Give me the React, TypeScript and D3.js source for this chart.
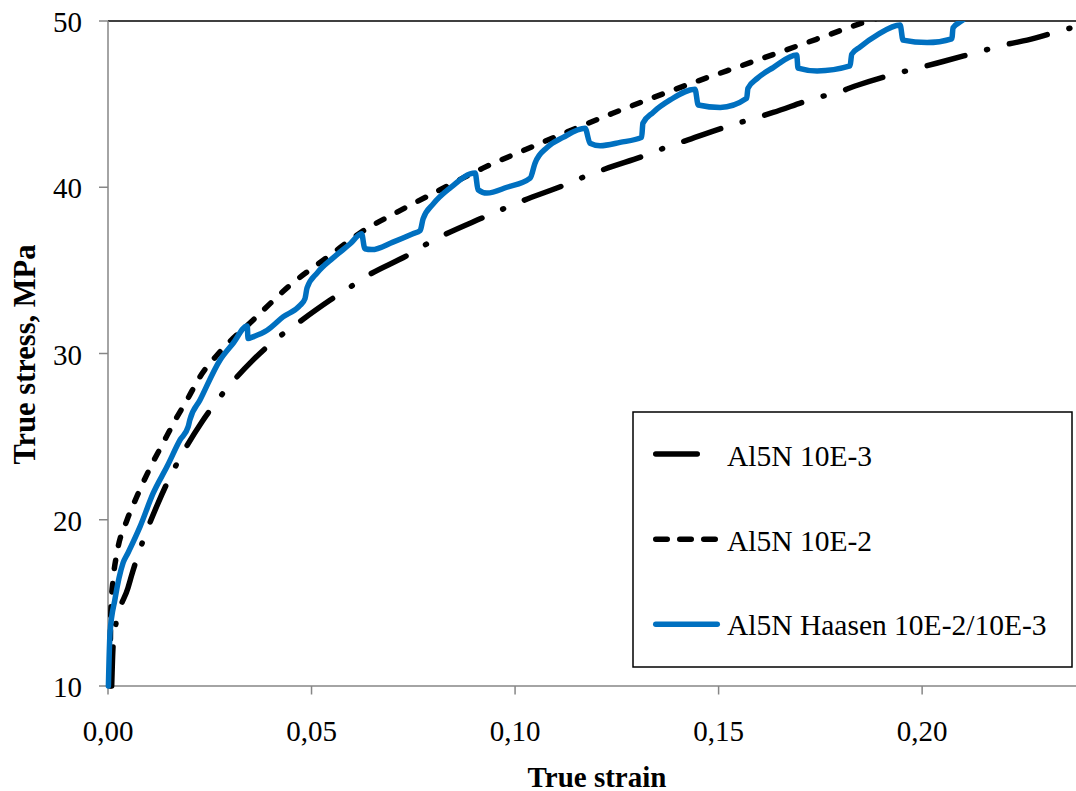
import React from "react";
import * as d3 from "d3";

// ---- data ----
const strainTicks = [0, 0.05, 0.1, 0.15, 0.2];
const stressTicks = [10, 20, 30, 40, 50];

const seriesNames = ["Al5N 10E-3", "Al5N 10E-2", "Al5N Haasen 10E-2/10E-3"];

// Al5N 10E-3 (dash-dot)
const slowStrain = [0.0009, 0.001, 0.0012, 0.0017, 0.0049, 0.0061, 0.0084, 0.0123, 0.0147, 0.0172, 0.0231, 0.0263, 0.0356, 0.0415, 0.0459, 0.0545, 0.0595, 0.0639, 0.0735, 0.0784, 0.0823, 0.0919, 0.0971, 0.102, 0.1118, 0.1172, 0.1221, 0.1324, 0.1376, 0.1425, 0.1533, 0.1582, 0.1634, 0.1737, 0.1791, 0.1843, 0.1946, 0.1995, 0.2049, 0.2155, 0.2209, 0.2258, 0.2369, 0.2378];
const slowStress = [10, 10.8, 12.2, 13.4, 15.9, 16.9, 18.6, 21.0, 22.3, 23.5, 25.9, 27.0, 29.6, 30.9, 31.7, 33.2, 34.0, 34.7, 35.9, 36.6, 37.1, 38.15, 38.7, 39.2, 40.1, 40.65, 41.1, 41.95, 42.45, 42.85, 43.75, 44.1, 44.5, 45.35, 45.7, 46.15, 46.9, 47.2, 47.55, 48.25, 48.6, 48.85, 49.6, 49.65];

// Al5N 10E-2 (dashed)
const fastStrain = [0.0005, 0.0007, 0.0013, 0.0022, 0.0047, 0.0071, 0.0103, 0.0135, 0.017, 0.0194, 0.0226, 0.0275, 0.0356, 0.0447, 0.0545, 0.0619, 0.071, 0.0816, 0.0921, 0.1029, 0.113, 0.124, 0.134, 0.145, 0.152, 0.163, 0.174, 0.1855, 0.192];
const fastStress = [10, 14.5, 16.5, 18.0, 20.0, 21.4, 23.1, 24.6, 26.2, 27.2, 28.6, 30.1, 32.0, 34.1, 35.9, 37.25, 38.5, 39.85, 41.15, 42.3, 43.35, 44.45, 45.4, 46.4, 47.0, 47.95, 48.9, 49.9, 50.4];

// Al5N Haasen 10E-2/10E-3 (blue)
const haasenStrain = [0.0001, 0.0005, 0.0017, 0.0037, 0.0049, 0.0079, 0.0111, 0.0145, 0.0177, 0.0197, 0.0201, 0.0226, 0.0275, 0.0307, 0.0342,
  0.0344, 0.0356, 0.0391, 0.043, 0.0472, 0.0484,
  0.0489, 0.0514, 0.0553, 0.0595, 0.0623,
  0.0631, 0.0648, 0.07, 0.0749, 0.0767,
  0.0774, 0.0799, 0.084, 0.0902,
  0.0909, 0.0931, 0.098, 0.1037,
  0.1049, 0.1079, 0.1118, 0.1172,
  0.1184, 0.1209, 0.1258, 0.1311,
  0.1314, 0.1339, 0.1381, 0.1442,
  0.145, 0.1504, 0.1569,
  0.1572, 0.1595, 0.1634, 0.1692,
  0.1695, 0.1742, 0.1823,
  0.1827, 0.1848, 0.1889, 0.1946,
  0.1953, 0.2012, 0.2073,
  0.2076, 0.2097, 0.2115];
const haasenStress = [10, 13.2, 15.2, 17.4, 18.0, 19.6, 21.6, 23.2, 24.8, 25.6, 26.0, 27.2, 29.6, 30.6, 31.65,
  30.9, 31.0, 31.4, 32.2, 32.9, 33.3,
  33.95, 34.85, 35.75, 36.6, 37.2,
  36.3, 36.25, 36.7, 37.2, 37.4,
  38.1, 39.0, 39.95, 40.85,
  39.85, 39.65, 40.0, 40.55,
  41.45, 42.4, 43.0, 43.55,
  42.65, 42.5, 42.7, 43.0,
  43.85, 44.5, 45.25, 45.9,
  44.95, 44.8, 45.35,
  45.95, 46.55, 47.2, 47.95,
  47.17, 47.0, 47.3,
  48.0, 48.45, 49.15, 49.76,
  48.85, 48.7, 48.93,
  49.6, 50.0, 50.4];

// ---- layout ----
const W = 1076;
const H = 791;
const left = 108;
const right = 1076;
const top = 21;
const bottom = 686;
const BLUE = "#0070C0";
const AXIS = "#868686";
const FONT = '"Liberation Serif", "Times New Roman", Times, "DejaVu Serif", serif';

const x = d3.scaleLinear().domain([0, 0.2378]).range([left, right]);
const y = d3.scaleLinear().domain([10, 50]).range([bottom, top]);

const line = d3
  .line<[number, number]>()
  .x((d) => x(d[0]))
  .y((d) => y(d[1]))
  .curve(d3.curveMonotoneX);

const zip = (a: number[], b: number[]) => a.map((v, i) => [v, b[i]] as [number, number]);
const fmt = (v: number) => d3.format(".2f")(v).replace(".", ",");

const textStyle: React.CSSProperties = { fontFamily: FONT };

export default function App() {
  const slowPath = line(zip(slowStrain, slowStress)) || "";
  const fastPath = line(zip(fastStrain, fastStress)) || "";
  const haasenPath = line(zip(haasenStrain, haasenStress)) || "";

  const legendRows = [
    { yLine: 454, yText: 465.7 },
    { yLine: 539.3, yText: 550.7 },
    { yLine: 624.3, yText: 635 },
  ];

  return (
    <svg
      width={W}
      height={H}
      style={{ position: "absolute", left: 0, top: 0, background: "#fff", fontFamily: FONT }}
    >
      <defs>
        <clipPath id="plotClip">
          <rect x={0} y={top} width={W} height={bottom - top + 10} />
        </clipPath>
      </defs>
      <rect x={0} y={0} width={W} height={H} fill="#fff" />

      {/* top frame line */}
      <line x1={left} x2={right} y1={top} y2={top} stroke="#000" strokeWidth={1.5} />

      {/* y axis */}
      <line x1={left} x2={left} y1={top} y2={bottom} stroke={AXIS} strokeWidth={1.5} />
      {stressTicks.map((t) => (
        <g key={"y" + t}>
          <line x1={left - 9} x2={left} y1={y(t)} y2={y(t)} stroke={AXIS} strokeWidth={1.5} />
          <text x={82} y={y(t) + 11} textAnchor="end" fontSize={29} fill="#000" style={textStyle}>
            {t}
          </text>
        </g>
      ))}

      {/* x axis */}
      <line x1={left} x2={right} y1={bottom} y2={bottom} stroke={AXIS} strokeWidth={1.5} />
      {strainTicks.map((t) => (
        <g key={"x" + t}>
          <line x1={x(t)} x2={x(t)} y1={bottom} y2={bottom + 8.5} stroke={AXIS} strokeWidth={1.5} />
          <text x={x(t)} y={740.7} textAnchor="middle" fontSize={29} fill="#000" style={textStyle}>
            {fmt(t)}
          </text>
        </g>
      ))}

      {/* axis titles */}
      <text x={597} y={786.5} textAnchor="middle" fontSize={29} fontWeight="bold" fill="#000" style={textStyle}>
        True strain
      </text>
      <text
        transform={`translate(34.5, 354.5) rotate(-90)`}
        textAnchor="middle"
        fontSize={30.5}
        fontWeight="bold"
        fill="#000"
        style={textStyle}
      >
        True stress, MPa
      </text>

      {/* curves */}
      <g clipPath="url(#plotClip)" fill="none" strokeLinecap="round" strokeLinejoin="round">
        <path d={slowPath} stroke="#000" strokeWidth={5.5} strokeDasharray="39 22.5 1 22.5" />
        <path d={fastPath} stroke="#000" strokeWidth={5.5} strokeDasharray="8.5 15" />
        <path d={haasenPath} stroke={BLUE} strokeWidth={5.5} />
      </g>

      {/* legend */}
      <rect x={633} y={412} width={439} height={255} fill="#fff" stroke="#000" strokeWidth={1.5} />
      <line x1={655.75} x2={697.25} y1={legendRows[0].yLine} y2={legendRows[0].yLine} stroke="#000" strokeWidth={5.5} strokeLinecap="round" />
      <line x1={655.75} x2={715.25} y1={legendRows[1].yLine} y2={legendRows[1].yLine} stroke="#000" strokeWidth={5.5} strokeLinecap="round" strokeDasharray="11.5 12.5" />
      <line x1={655.75} x2={717.25} y1={legendRows[2].yLine} y2={legendRows[2].yLine} stroke={BLUE} strokeWidth={5.5} strokeLinecap="round" />
      {seriesNames.map((n, i) => (
        <text key={n} x={727} y={legendRows[i].yText} fontSize={29.5} fill="#000" style={textStyle}>
          {n}
        </text>
      ))}
    </svg>
  );
}
